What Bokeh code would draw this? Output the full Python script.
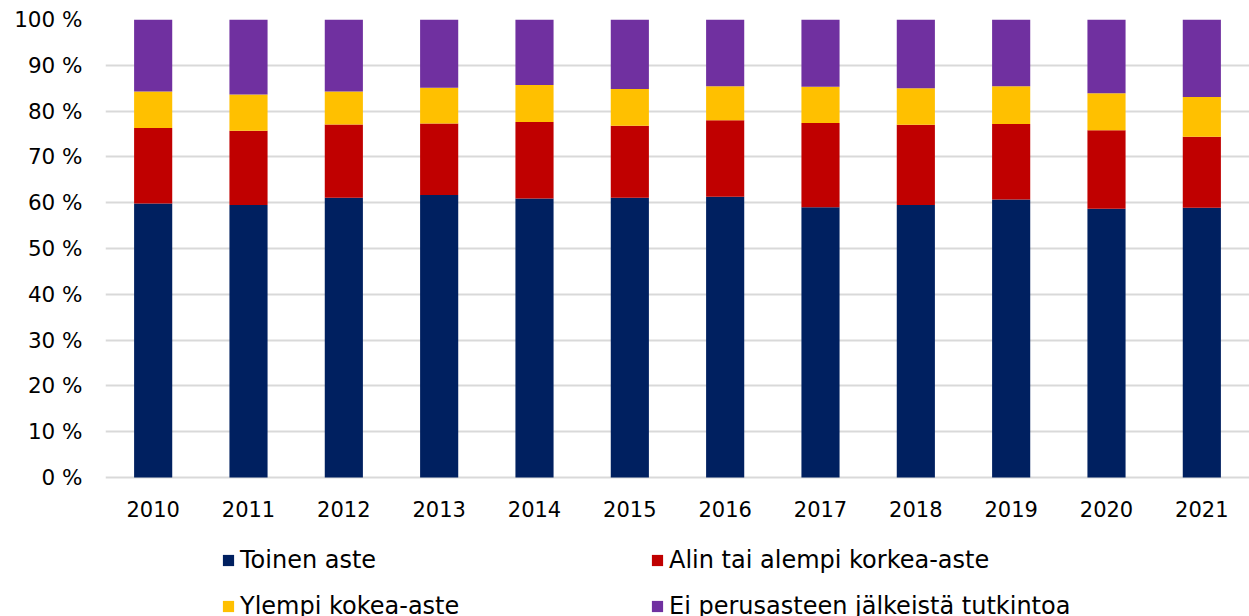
from bokeh.plotting import figure
from bokeh.models import FixedTicker, Legend, LegendItem, ColumnDataSource, FactorRange, Range1d
from bokeh.core.properties import value
from bokeh.embed import file_html
from bokeh.resources import INLINE

years = ["2010", "2011", "2012", "2013", "2014", "2015", "2016", "2017", "2018", "2019", "2020", "2021"]
toinen = [59.8, 59.5, 61.1, 61.7, 60.9, 61.1, 61.3, 59.0, 59.5, 60.7, 58.7, 58.9]
alin = [16.5, 16.2, 16.0, 15.6, 16.7, 15.7, 16.7, 18.4, 17.5, 16.5, 17.1, 15.5]
ylempi = [8.0, 7.9, 7.2, 7.8, 8.1, 8.0, 7.4, 7.9, 8.0, 8.2, 8.1, 8.7]
ei = [15.7, 16.4, 15.7, 14.9, 14.3, 15.2, 14.6, 14.7, 15.0, 14.6, 16.1, 16.9]
series = ["Toinen aste", "Alin tai alempi korkea-aste", "Ylempi kokea-aste", "Ei perusasteen jälkeistä tutkintoa"]
colors = ["#002060", "#C00000", "#FFC000", "#7030A0"]
yticks = [0, 10, 20, 30, 40, 50, 60, 70, 80, 90, 100]
ytick_labels = [f"{t} %" for t in yticks]

FONT = "DejaVu Sans"
PX_PER_UNIT = 4.58
FRAME_H = 640
Y_START = 100 - FRAME_H / PX_PER_UNIT
LABEL_Y = -31 / PX_PER_UNIT

src = ColumnDataSource(dict(year=years, s0=toinen, s1=alin, s2=ylempi, s3=ei))

p = figure(x_range=FactorRange(*years, range_padding=0), y_range=Range1d(Y_START, 100),
           frame_width=1144, frame_height=FRAME_H, output_backend="svg", toolbar_location=None,
           min_border_left=105, min_border_right=0, min_border_top=19, min_border_bottom=0)
p.outline_line_color = None

rs = p.vbar_stack(["s0", "s1", "s2", "s3"], x="year", width=0.4, color=colors,
                  line_color=None, source=src)

p.text(x=years, y=[LABEL_Y] * len(years), text=years, text_font=value(FONT),
       text_font_size="21px", text_color="#000000", text_align="center",
       text_baseline="middle")

p.xaxis.visible = False
yax = p.yaxis[0]
yax.ticker = FixedTicker(ticks=yticks)
yax.major_label_overrides = {t: l for t, l in zip(yticks, ytick_labels)}
yax.axis_line_color = None
yax.major_tick_line_color = None
yax.minor_tick_line_color = None
yax.major_label_text_font = FONT
yax.major_label_text_font_size = "21.5px"
yax.major_label_text_color = "#000000"
yax.major_label_standoff = 17

p.xgrid.grid_line_color = None
p.ygrid.grid_line_color = "#D9D9D9"
p.ygrid.grid_line_width = 2
p.ygrid.ticker = FixedTicker(ticks=yticks)

legend = Legend(items=[LegendItem(label=series[i], renderers=[rs[i]]) for i in range(4)],
                ncols=2, location=(116, 30), orientation="horizontal",
                glyph_width=14, glyph_height=14, label_standoff=5, spacing=0,
                label_width=410, label_height=46,
                padding=0, margin=0, border_line_color=None, background_fill_alpha=0,
                label_text_font=FONT, label_text_font_size="24px", label_text_color="#000000")
p.add_layout(legend, "center")

open("out.html", "w").write(file_html(p, INLINE))
